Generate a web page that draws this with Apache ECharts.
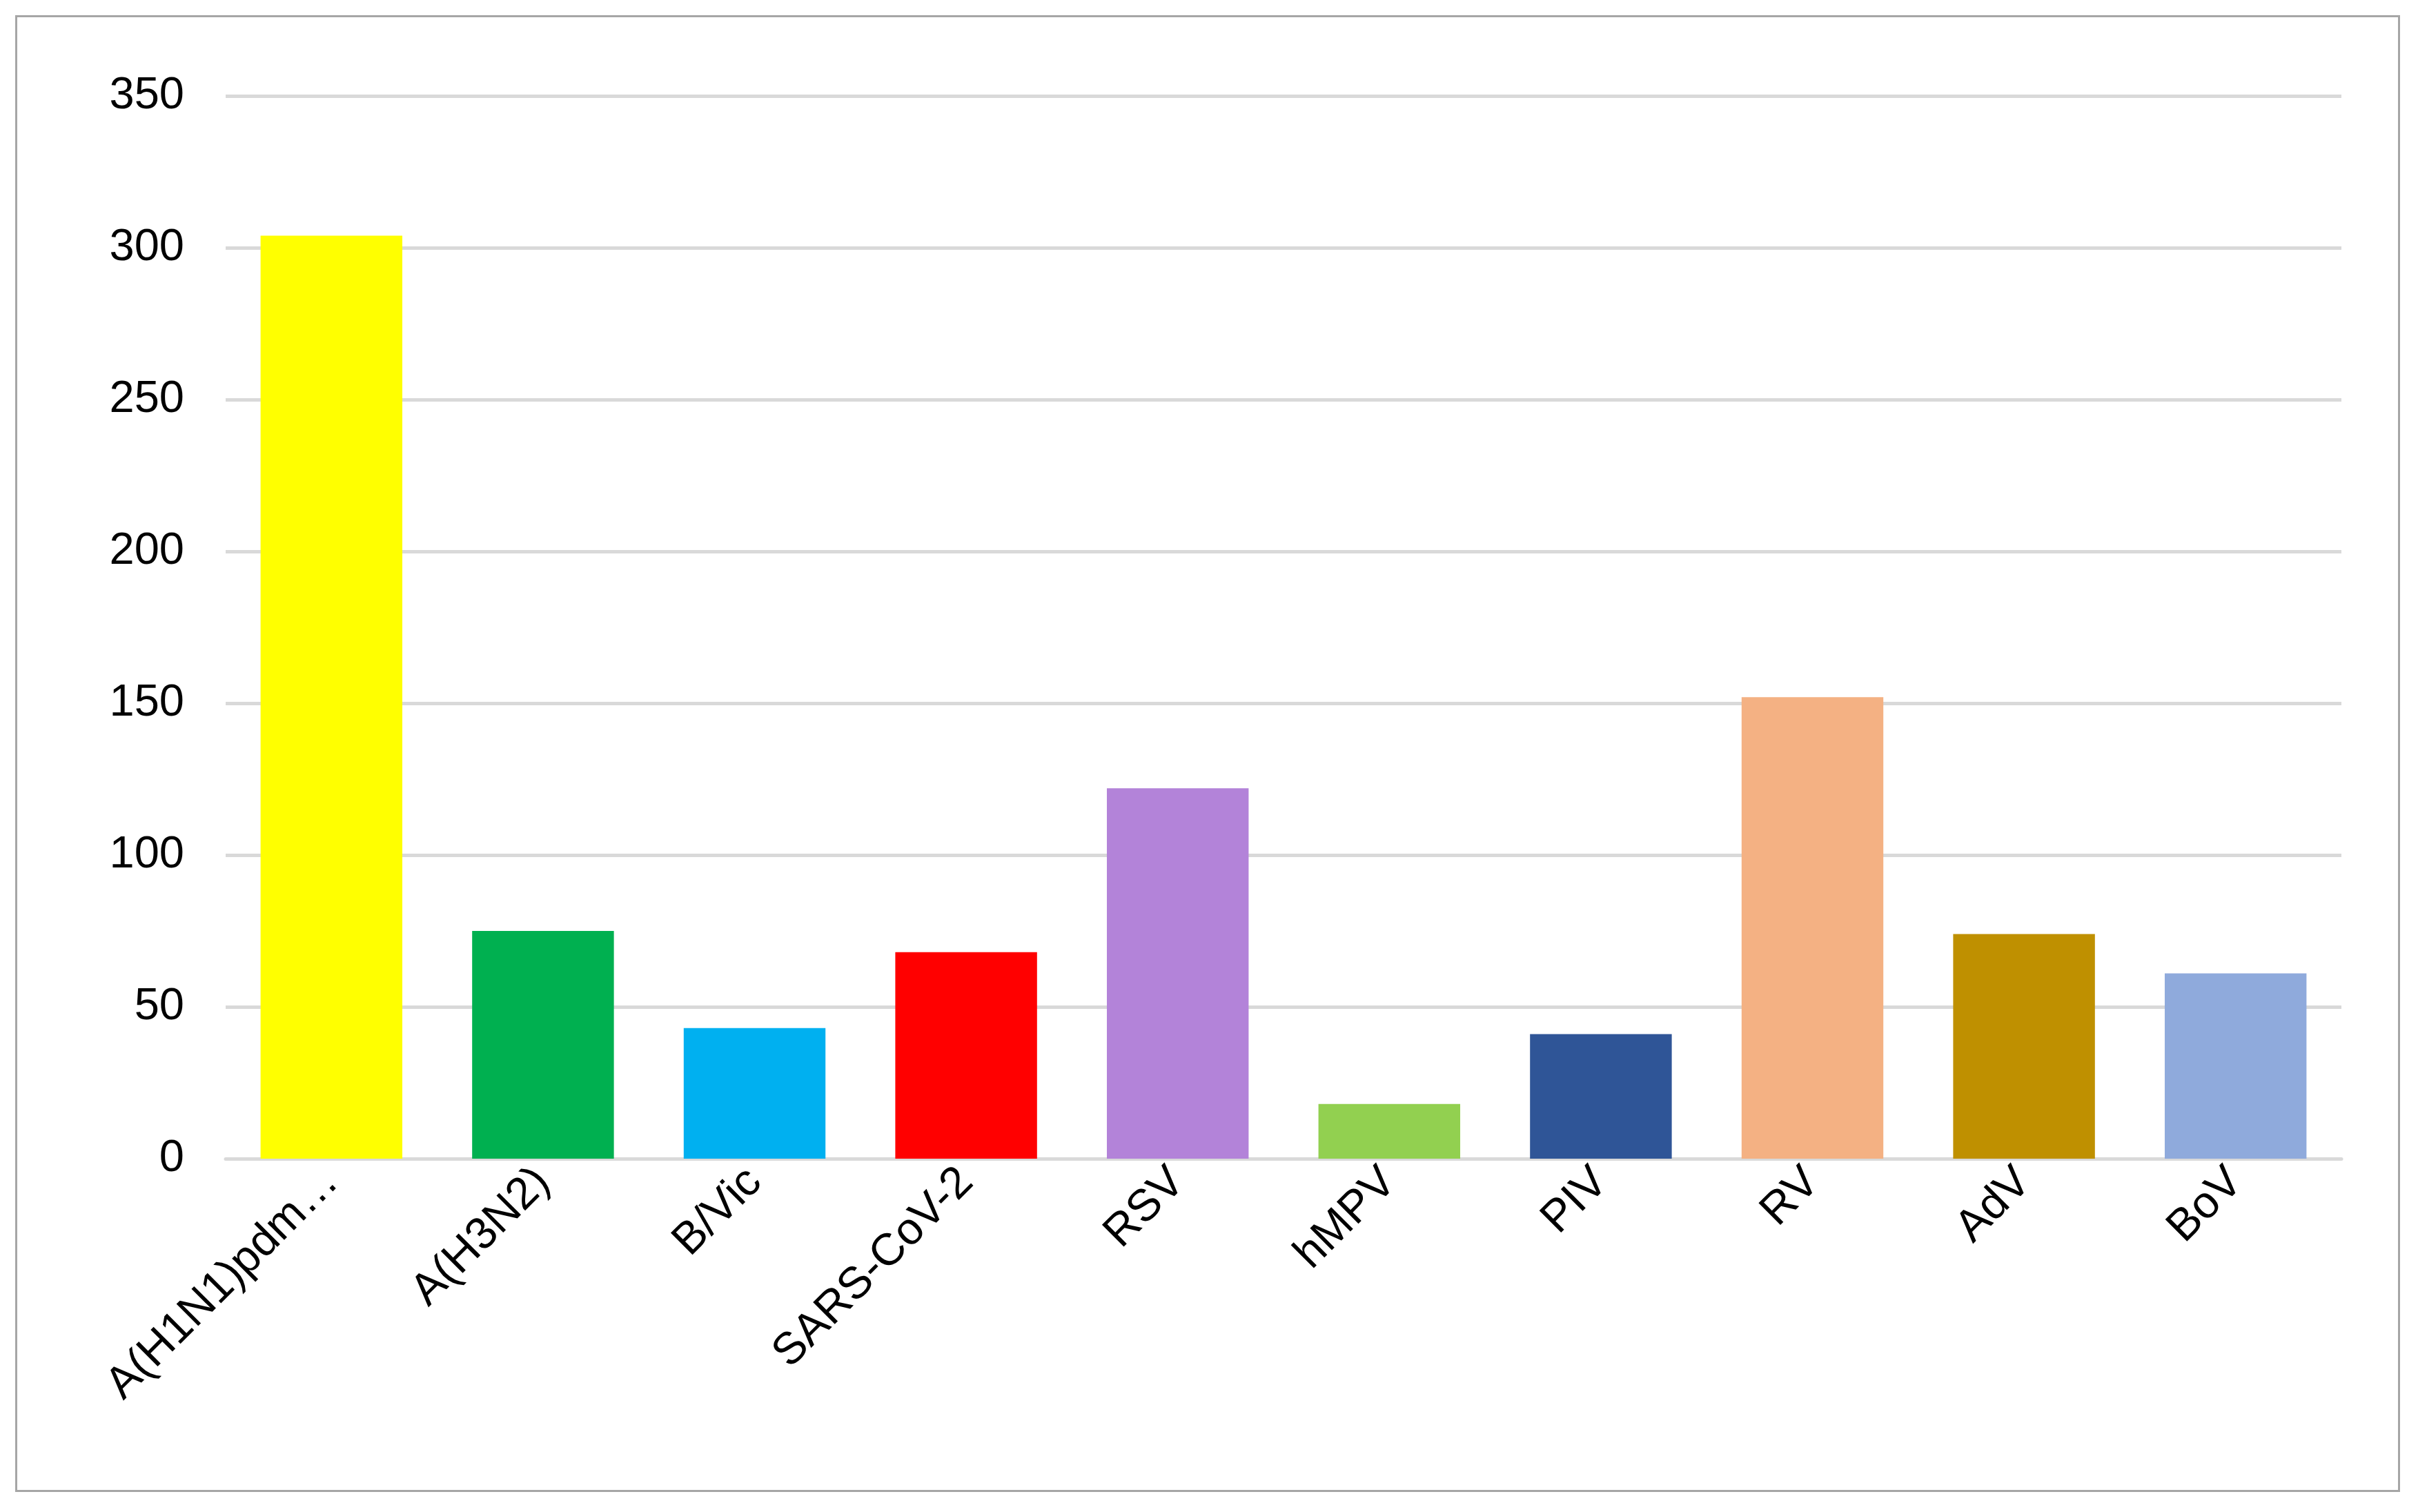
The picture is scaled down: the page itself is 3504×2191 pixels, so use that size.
<!DOCTYPE html>
<html>
<head>
<meta charset="utf-8">
<script src="https://cdn.jsdelivr.net/npm/echarts@6/dist/echarts.min.js"></script>
<style>
html,body{margin:0;padding:0;background:#fff;}
#chart{position:absolute;left:22px;top:22px;width:3456px;height:2140px;border:3px solid #a6a6a6;box-sizing:border-box;}
</style>
</head>
<body>
<div id="chart"></div>
<script>
var categories = ['A(H1N1)pdm…', 'A(H3N2)', 'B/Vic', 'SARS-CoV-2', 'RSV', 'hMPV', 'PIV', 'RV', 'AdV', 'BoV'];
var values = [304, 75, 43, 68, 122, 18, 41, 152, 74, 61];
var colors = ['#FFFF00', '#00B050', '#00B0F0', '#FF0000', '#B383D9', '#92D050', '#2F5597', '#F4B183', '#BF9000', '#8FAADC'];

var myChart = echarts.init(document.getElementById('chart'));
var option = {
    animation: false,
    grid: {left: 302, right: 82, top: 114, bottom: 480},
    xAxis: {
        type: 'category',
        data: categories,
        axisLine: {lineStyle: {color: '#d9d9d9', width: 5}},
        axisTick: {show: false},
        axisLabel: {rotate: 45, color: '#000', fontSize: 65, fontFamily: 'Liberation Sans, Arial', margin: 24, interval: 0}
    },
    yAxis: {
        type: 'value',
        min: 0, max: 350, interval: 50,
        axisLine: {show: false},
        axisTick: {show: false},
        splitLine: {lineStyle: {color: '#d9d9d9', width: 5}},
        axisLabel: {color: '#000', fontSize: 65, fontFamily: 'Liberation Sans, Arial', margin: 60}
    },
    series: [{
        type: 'bar',
        barCategoryGap: '33%',
        data: values.map(function (v, i) {
            return {value: v, itemStyle: {color: colors[i]}};
        })
    }]
};
myChart.setOption(option);
</script>
</body>
</html>
